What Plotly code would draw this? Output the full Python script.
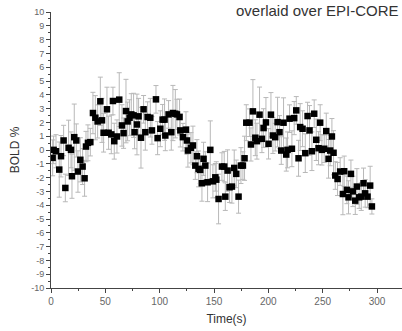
import plotly.graph_objects as go

time_s = [1.5, 2.4, 4.6, 7.6, 9.2, 11.6, 13.2, 16.2, 18.4, 19.3, 21.4, 23.3, 24.8, 27.0, 29.1, 30.9,
          32.2, 34.0, 36.2, 38.6, 40.8, 42.9, 45.4, 46.9, 48.4, 51.5, 53.0, 55.5, 57.0, 58.2, 60.7,
          62.8, 65.3, 66.8, 69.0, 70.5, 72.3, 73.9, 76.0, 76.9, 79.1, 80.6, 82.8, 85.2, 86.8, 88.9,
          91.4, 92.9, 96.6, 98.1, 100.6, 102.7, 104.5, 105.2, 108.2, 110.7, 112.2, 114.4, 115.9,
          118.3, 119.0, 121.4, 124.2, 125.1, 126.0, 128.8, 130.6, 132.8, 134.3, 135.8,
          137.3, 138.9, 140.4, 142.0, 144.1, 146.6, 149.0, 151.2, 152.1, 154.2, 157.3, 159.4,
          160.4, 162.5, 164.3, 166.5, 168.6, 170.5, 172.6, 174.8, 176.6, 178.1, 179.7, 182.7,
          184.0, 185.8, 188.0, 189.5, 191.9, 194.1, 195.6, 197.8, 200.2, 202.4, 204.2, 206.3,
          208.5, 210.3, 211.9, 214.0, 216.5, 217.7, 219.5, 221.7, 223.8, 225.7, 227.8, 229.3,
          231.5, 234.0, 236.1, 237.9, 240.1, 242.2, 244.1, 246.2, 247.7, 249.3, 251.4, 253.3,
          255.4, 256.9, 258.5, 260.0, 261.6, 263.7, 266.1, 268.6, 269.8, 272.3, 273.8, 276.0,
          277.8, 280.0, 281.5, 283.6, 285.5, 287.6, 289.1, 291.3, 293.7, 295.3]

bold_pct = [-0.57, 0.01, -0.09, -1.42, -0.45, 0.69, -2.75, 0.16, 0.01, -1.9, 0.93, 0.69, -1.56, -0.71, -1.2, -2.05,
            0.25, 0.52, 0.57, 2.68, 2.34, 2.07, 3.53, 2.15, 1.25, 2.95, 1.25, 1.13, 3.55, 0.64, 0.98,
            3.65, 1.78, 1.22, 2.82, 2.07, 2.34, 2.58, 2.51, 1.29, 1.85, 2.44, 0.89, 2.95, 1.29, 2.39,
            2.34, 1.42, 3.67, 0.86, 1.54, 2.2, 2.2, 1.05, 2.58, 1.29, 2.68, 2.63, 2.58,
            2.39, 1.42, 0.93, 1.47, 0.69, -0.04, 0.16, 0.33, -1.13, -0.45, -1.37,
            -1.44, -2.41, -0.64, -1.13, -2.34, 0.01, -2.27, -1.98, -2.15, -3.55, -1.2, -1.2,
            -3.38, -1.49, -2.7, -2.65, -1.3, -1.73, -3.38, -1.13, -1.13, -0.6, 1.98, 1.98,
            0.4, 2.8, 0.89, 0.64, 2.56, 0.81, 1.59, 2.0, 0.45, 2.56, 1.05, 0.93,
            2.02, 1.29, -0.04, 1.98, -0.33, 0.01, 2.27, 0.09, 2.31, 2.87, -0.6, 1.66,
            1.54, -0.23, 2.46, 1.42, -0.09, 2.63, 0.74, 0.13, 1.98, 0.01, 0.09, 1.37,
            -0.64, -0.04, 0.98, -0.2, -1.85, -2.1, -1.56, -3.19, -1.54, -2.89, -3.43, -1.73,
            -3.0, -3.67, -2.65, -3.43, -3.38, -2.41, -3.14, -3.38, -2.58, -4.09]

bold_err = [1.3, 1.0, 1.2, 2.0, 1.5, 1.1, 1.0, 2.0, 1.3, 1.6, 2.4, 1.2, 1.5, 1.6, 1.3, 1.3,
            1.1, 1.3, 1.0, 1.5, 1.6, 1.2, 1.75, 1.6, 1.4, 1.6, 1.2, 1.4, 1.0, 1.3, 1.2,
            1.95, 1.5, 1.1, 2.3, 1.4, 1.3, 1.5, 1.6, 1.2, 2.2, 1.3, 2.2, 1.0, 1.3, 1.1,
            1.4, 1.0, 1.0, 1.2, 1.3, 1.1, 1.5, 1.1, 1.0, 1.3, 2.0, 1.75, 1.1,
            1.3, 1.2, 1.0, 1.3, 1.0, 1.2, 1.1, 1.4, 1.0, 1.2, 1.3,
            1.0, 1.3, 1.2, 1.0, 1.4, 2.1, 1.2, 1.0, 1.3, 1.8, 1.0, 1.1,
            1.0, 1.5, 1.1, 1.2, 1.3, 1.0, 1.2, 1.3, 1.0, 1.6, 1.3, 1.0,
            1.2, 2.3, 1.3, 1.3, 2.0, 1.0, 1.4, 1.8, 1.1, 1.6, 1.3, 1.0,
            1.8, 1.2, 1.0, 1.8, 1.2, 1.3, 1.0, 1.3, 1.2, 1.0, 1.3, 1.7,
            1.3, 1.4, 1.0, 1.8, 1.4, 1.0, 1.5, 1.2, 1.3, 1.1, 1.0, 1.3,
            1.4, 1.1, 1.3, 1.6, 1.0, 1.2, 1.0, 1.5, 1.1, 1.0, 1.2, 1.0,
            1.1, 1.0, 1.3, 0.8, 1.0, 1.1, 1.0, 0.8, 1.4, 0.55]

n = min(len(time_s), len(bold_pct), len(bold_err))
time_s, bold_pct, bold_err = time_s[:n], bold_pct[:n], bold_err[:n]

x_ticks = [0, 50, 100, 150, 200, 250, 300]
y_ticks = list(range(-10, 11))

fig = go.Figure()
fig.add_trace(go.Scatter(
    x=time_s, y=bold_pct, mode="markers",
    marker=dict(symbol="square", size=6.5, color="black"),
    error_y=dict(type="data", array=bold_err, visible=True, color="#b8b8b8", thickness=1, width=2.5),
    showlegend=False, hoverinfo="skip",
))

font_family = "Liberation Sans, Arial, sans-serif"
fig.update_layout(
    width=402, height=331,
    margin=dict(l=51, r=0, t=12, b=43),
    paper_bgcolor="white", plot_bgcolor="white",
    font=dict(family=font_family, color="#444"),
    xaxis=dict(
        range=[0, 323], tickvals=x_ticks, ticktext=[str(v) for v in x_ticks],
        showgrid=False, zeroline=False, showline=True, linecolor="#444", linewidth=1,
        ticks="outside", ticklen=4, tickcolor="#444", tickfont=dict(size=10, color="#666"),
        minor=dict(dtick=25, tick0=0, ticks="outside", ticklen=2, tickcolor="#444"),
        title=dict(text="Time(s)", font=dict(size=12, color="#333"), standoff=8),
    ),
    yaxis=dict(
        range=[-10, 10], tickvals=y_ticks, ticktext=[str(v) for v in y_ticks],
        showgrid=False, zeroline=False, showline=True, linecolor="#444", linewidth=1,
        ticks="outside", ticklen=4, tickcolor="#444", tickfont=dict(size=9, color="#666"),
        minor=dict(dtick=0.5, tick0=0, ticks="outside", ticklen=2, tickcolor="#444"),
        title=dict(text="BOLD %", font=dict(size=12, color="#333"), standoff=8),
    ),
)
fig.add_annotation(
    text="overlaid over EPI-CORE", xref="paper", yref="paper", x=0.998, y=1.045,
    xanchor="right", yanchor="top", showarrow=False,
    font=dict(size=15, color="#333", family=font_family),
)
fig.write_html(
    "out.html",
    config={"displayModeBar": False, "staticPlot": True},
    post_script="document.body.style.margin='0';document.body.style.overflow='hidden';",
)
